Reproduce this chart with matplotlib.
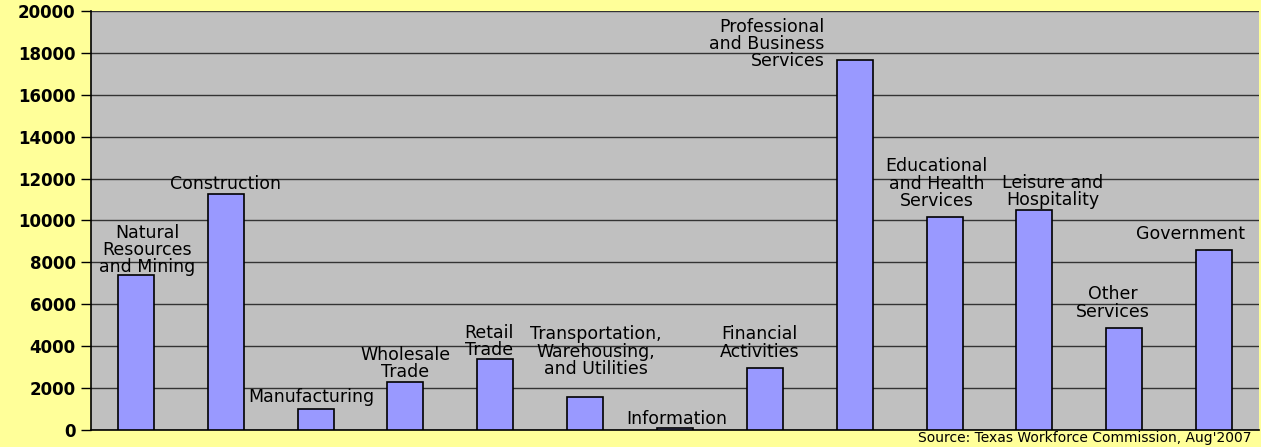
import numpy as np
import matplotlib
matplotlib.use('Agg')
import matplotlib.pyplot as plt

sectors = ['Natural\nResources\nand Mining', 'Construction', 'Manufacturing',
           'Wholesale\nTrade', 'Retail\nTrade',
           'Transportation,\nWarehousing,\nand Utilities', 'Information',
           'Financial\nActivities', 'Professional\nand Business\nServices',
           'Educational\nand Health\nServices', 'Leisure and\nHospitality',
           'Other\nServices', 'Government']
jobs = [7400, 11280, 990, 2280, 3380, 1590, 100, 2980, 17660, 10180, 10490, 4890, 8580]
yticks = [0, 2000, 4000, 6000, 8000, 10000, 12000, 14000, 16000, 18000, 20000]

# label nudges in pixels (dx, dy) relative to bar top centre
nudge = [(11, -1), (0, 1), (-4, 3), (0, 1), (-6, 0), (11, 19), (2, 0),
         (-5, 7), (-30, -10), (-8, 7), (18, 1), (-11, 7), (-24, 7)]

plt.rcParams['font.family'] = ['DejaVu Sans']
fig = plt.figure(figsize=(12.61, 4.47), dpi=100, facecolor='#FFFF99')
ax = fig.add_axes([91 / 1261, 17 / 447, 1168 / 1261, 419 / 447])
ax.set_facecolor('#C0C0C0')

x = np.arange(len(sectors))
ax.bar(x, jobs, width=0.4, color='#9999FF', edgecolor='black', linewidth=1.2, zorder=3)

ax.set_xlim(-0.5, len(sectors) - 0.5)
ax.set_ylim(0, 20000)
ax.set_yticks(yticks)
ax.set_yticklabels([str(v) for v in yticks], fontsize=12, fontweight='bold')
ax.set_xticks([])
ax.yaxis.grid(True, color='#333333', linewidth=1)
ax.set_axisbelow(True)
ax.tick_params(axis='y', length=7, width=1, color='black', pad=4)
for s in ['top', 'right']:
    ax.spines[s].set_visible(False)
ax.spines['left'].set_linewidth(1.2)
ax.spines['bottom'].set_linewidth(1.2)

for i, (name, v) in enumerate(zip(sectors, jobs)):
    dx, dy = nudge[i]
    ha = 'right' if i == 8 else 'center'
    ax.annotate(name, xy=(i, v), xytext=(dx * 0.72, dy * 0.72), textcoords='offset points',
                ha=ha, va='bottom', fontsize=12.5, linespacing=0.94, multialignment=ha,
                zorder=4, annotation_clip=False)

fig.text(1251 / 1261, 1 - 438 / 447, "Source: Texas Workforce Commission, Aug'2007",
         ha='right', va='center', fontsize=10)

plt.savefig('out.png', dpi=100, facecolor=fig.get_facecolor())
